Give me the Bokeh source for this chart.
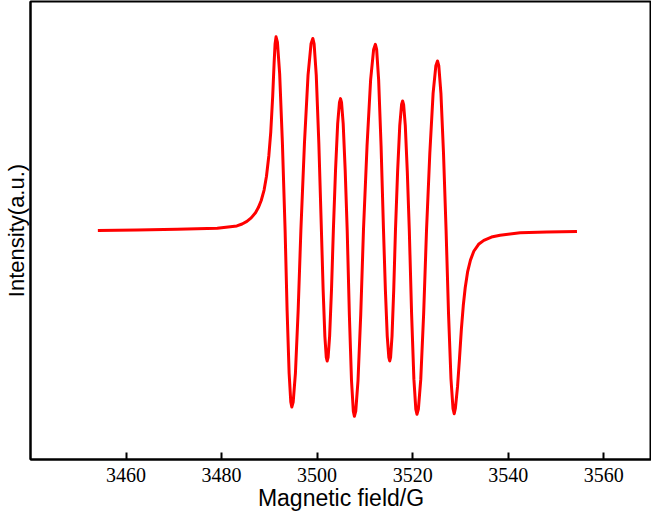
from bokeh.plotting import figure
from bokeh.models import Range1d, FixedTicker
from bokeh.embed import file_html
from bokeh.resources import INLINE

# EPR spectrum: magnetic field (G) and intensity (a.u.)
field = [3454.1, 3462.3, 3470.7, 3479.1, 3483.2, 3484.3, 3485.3, 3486.2, 3487.1,
         3487.7, 3488.3, 3488.9, 3489.4, 3489.9, 3490.3, 3490.7, 3491.0, 3491.2, 3491.4,
         3491.69, 3492.16, 3492.73, 3493.3,
         3493.72, 3494.14, 3494.49, 3494.7, 3494.99, 3495.46, 3496.03, 3496.6,
         3497.35, 3498.1, 3498.73, 3499.1, 3499.37, 3499.82, 3500.36, 3500.9,
         3501.26, 3501.62, 3501.92, 3502.1, 3502.3, 3502.62, 3503.01, 3503.4,
         3503.85, 3504.3, 3504.68, 3504.9, 3505.11, 3505.46, 3505.88, 3506.3,
         3506.75, 3507.2, 3507.58, 3507.8, 3508.09, 3508.56, 3509.13, 3509.7,
         3510.45, 3511.2, 3511.83, 3512.2, 3512.46, 3512.88, 3513.39, 3513.9,
         3514.29, 3514.68, 3515.01, 3515.2, 3515.38, 3515.68, 3516.04, 3516.4,
         3516.85, 3517.3, 3517.68, 3517.9, 3518.11, 3518.46, 3518.88, 3519.3,
         3519.78, 3520.26, 3520.66, 3520.9, 3521.2, 3521.7, 3522.3, 3522.9,
         3523.59, 3524.28, 3524.86, 3525.2, 3525.47, 3525.92, 3526.46, 3527.0,
         3527.51, 3528.02, 3528.45, 3528.7, 3528.95, 3529.4, 3529.8, 3530.2,
         3530.6, 3531.0, 3531.5, 3532.1, 3532.8, 3533.8, 3534.9, 3536.5, 3538.3,
         3542.5, 3548.1, 3554.4]
intensity = [0.000, 0.003, 0.006, 0.011, 0.023, 0.033, 0.046, 0.064, 0.090,
             0.116, 0.152, 0.205, 0.275, 0.380, 0.500, 0.680, 0.850, 0.945, 0.981,
             0.954, 0.794, 0.445, 0.000,
             -0.406, -0.723, -0.869, -0.894, -0.869, -0.723, -0.406, 0.000,
             0.442, 0.787, 0.946, 0.973, 0.946, 0.787, 0.442, 0.000,
             -0.300, -0.535, -0.643, -0.661, -0.643, -0.535, -0.300, 0.000,
             0.303, 0.540, 0.649, 0.668, 0.649, 0.540, 0.303, 0.000,
             -0.427, -0.761, -0.915, -0.941, -0.915, -0.761, -0.427, 0.000,
             0.428, 0.763, 0.917, 0.943, 0.917, 0.763, 0.428, 0.000,
             -0.300, -0.535, -0.643, -0.661, -0.643, -0.535, -0.300, 0.000,
             0.298, 0.531, 0.638, 0.656, 0.638, 0.531, 0.298, 0.000,
             -0.423, -0.753, -0.905, -0.931, -0.905, -0.753, -0.423, 0.000,
             0.390, 0.695, 0.835, 0.859, 0.835, 0.695, 0.390, 0.000,
             -0.421, -0.751, -0.902, -0.928, -0.900, -0.790, -0.650, -0.500,
             -0.380, -0.290, -0.210, -0.150, -0.105, -0.070, -0.050, -0.033, -0.024,
             -0.011, -0.008, -0.005]

x_ticks = [3460, 3480, 3500, 3520, 3540, 3560]

p = figure(width=651, height=513, output_backend="svg", toolbar_location=None,
           x_range=Range1d(3440, 3570), y_range=Range1d(-1.16, 1.16),
           min_border_left=25, min_border_right=0, min_border_top=1, min_border_bottom=0)

p.line(field, intensity, line_color="red", line_width=3, line_join="round")

p.grid.visible = False
p.outline_line_color = "black"
p.outline_line_width = 2
p.outline_line_alpha = 1
p.background_fill_color = "white"
p.border_fill_color = "white"

xa = p.xaxis[0]
xa.ticker = FixedTicker(ticks=x_ticks)
xa.major_tick_in = 7
xa.major_tick_out = 0
xa.major_tick_line_width = 2
xa.minor_tick_line_color = None
xa.axis_line_width = 2
xa.major_label_text_font = "Liberation Serif"
xa.major_label_text_font_size = "20px"
xa.major_label_text_color = "black"
xa.major_label_standoff = 8
xa.axis_label = "Magnetic field/G"
xa.axis_label_text_font = "Liberation Sans"
xa.axis_label_text_font_size = "23px"
xa.axis_label_text_font_style = "normal"
xa.axis_label_text_color = "black"
xa.axis_label_standoff = 0

ya = p.yaxis[0]
ya.ticker = FixedTicker(ticks=[])
ya.major_tick_line_color = None
ya.minor_tick_line_color = None
ya.axis_line_width = 2
ya.axis_label = "Intensity(a.u.)"
ya.axis_label_text_font = "Liberation Sans"
ya.axis_label_text_font_size = "22px"
ya.axis_label_text_font_style = "normal"
ya.axis_label_text_color = "black"
ya.axis_label_standoff = 2

open("out.html", "w").write(file_html(p, INLINE))
